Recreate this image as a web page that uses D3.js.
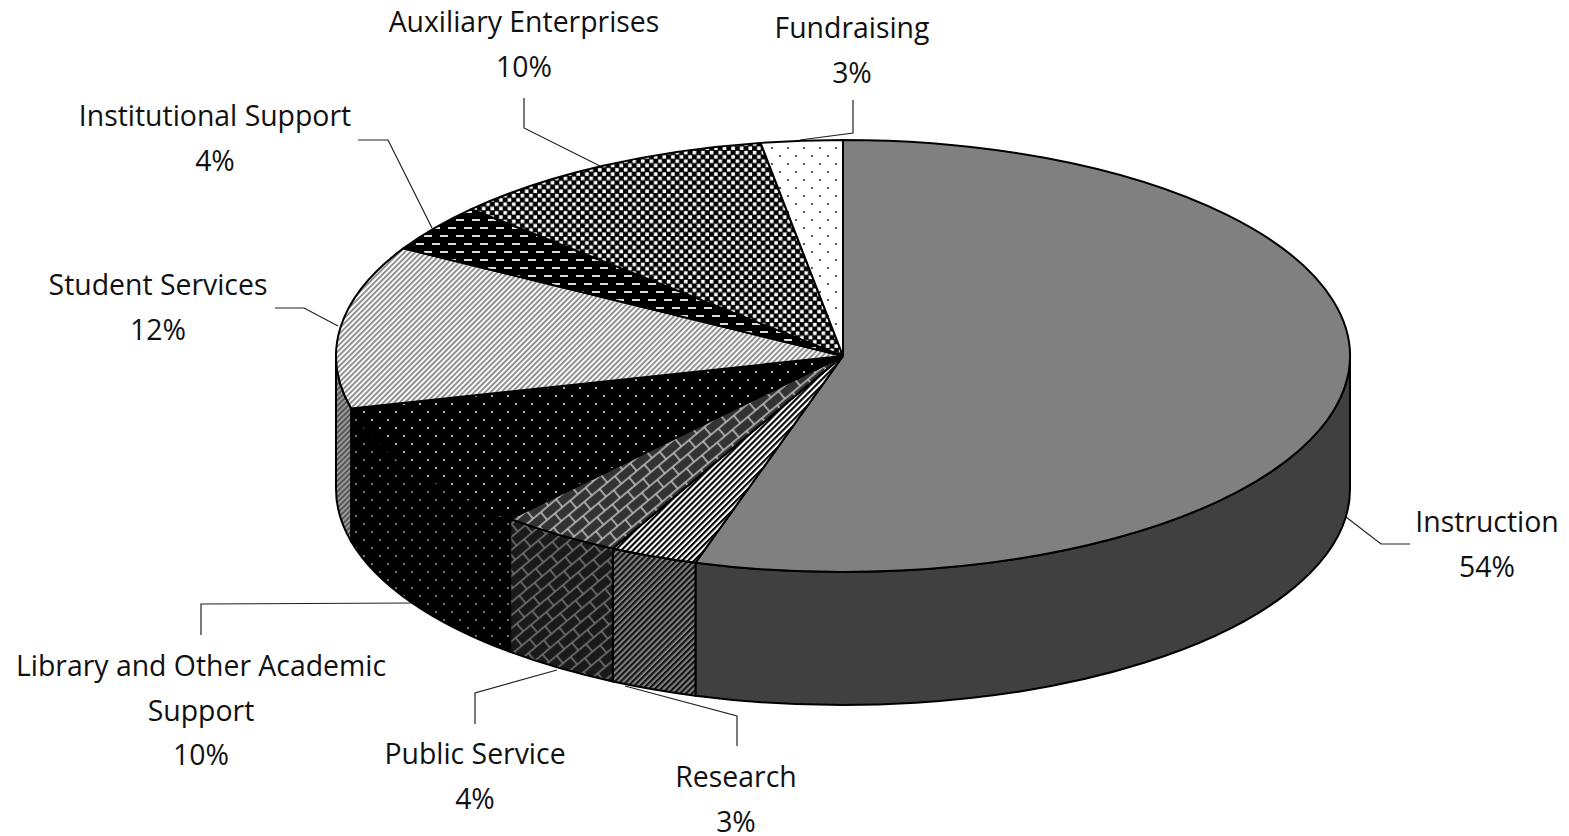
<!DOCTYPE html>
<html><head><meta charset="utf-8">
<style>html,body{margin:0;padding:0;background:#fff}svg{display:block}
text{font-family:"Open Sans",sans-serif;font-size:28.4px;fill:#111;text-anchor:middle}</style>
<script src="https://cdn.jsdelivr.net/npm/d3@7/dist/d3.min.js"></script>
</head><body><svg id="c" width="1569" height="836"></svg>
<script>
// Data (clockwise from 12 o'clock)
const categories = ["Instruction","Research","Public Service","Library and Other Academic Support","Student Services","Institutional Support","Auxiliary Enterprises","Fundraising"];
const shares = [54.7,2.8,3.9,9.7,12.2,3.6,10.5,2.6];
const shownLabels = ["54%","3%","4%","10%","12%","4%","10%","3%"];
const labelLines = [["Instruction"],["Research"],["Public Service"],["Library and Other Academic","Support"],["Student Services"],["Institutional Support"],["Auxiliary Enterprises"],["Fundraising"]];

// Layout
const cx=843, cy=356, rx=507, ry=216, depth=133, pitch=44.5;
const labelPos=[[1487,532],[736,787],[475,764],[201,676],[158,295],[215,126],[524,32],[852,38]];
const leaders=[
 [[1346,517],[1381,544],[1410,544]],
 [[625,686],[737,716],[737,746]],
 [[557,670],[475,693],[475,724]],
 [[413,603],[201,604],[201,635]],
 [[338,326],[304,308],[275,308]],
 [[432,228],[388,140],[358,140]],
 [[600,166],[524,128],[524,98]],
 [[800,140],[853,133],[853,100]]];

const svg=d3.select("#c"), defs=svg.append("defs");
function pat(id,w,h,bg,rot,draw){
  const p=defs.append("pattern").attr("id",id).attr("patternUnits","userSpaceOnUse").attr("width",w).attr("height",h);
  if(rot) p.attr("patternTransform",`rotate(${rot})`);
  p.append("rect").attr("width",w).attr("height",h).attr("fill",bg);
  draw(p);
}
const dots=(id,bg,fg,r)=>pat(id,16,16,bg,0,p=>{[[4,4],[12,12]].forEach(d=>p.append("circle").attr("cx",d[0]).attr("cy",d[1]).attr("r",r).attr("fill",fg));});
const stripes=(id,bg,fg,w,t)=>pat(id,w,w,bg,45,p=>p.append("rect").attr("width",t).attr("height",w).attr("fill",fg));
const bricks=(id,bg,fg,sw)=>pat(id,20,20,bg,-40,p=>{
  ["M0 0H20","M0 10H20","M5 0V10","M15 10V20","M0 20H20"].forEach(d=>p.append("path").attr("d",d).attr("stroke",fg).attr("stroke-width",sw).attr("fill","none"));
});
dots("pFund","#fff","#333",1.1);
dots("pLib","#000","#ddd",1.1);
dots("pLibW","#000","#999",1);
pat("pAux",8.6,8.6,"#000",0,p=>{[[0.3,0.3],[4.6,4.6]].forEach(d=>p.append("rect").attr("x",d[0]).attr("y",d[1]).attr("width",3.6).attr("height",3.6).attr("fill","#fff"));});
pat("pInst",16,16,"#000",0,p=>{[[0,3],[8,11]].forEach(d=>p.append("rect").attr("x",d[0]).attr("y",d[1]).attr("width",8).attr("height",2).attr("fill","#ddd"));});
stripes("pStu","#fff","#909090",3.8,2);
stripes("pStuW","#999","#555",3.8,1.9);
stripes("pRes","#fff","#000",4.2,2.1);
stripes("pResW","#808080","#111",4.2,2.1);
bricks("pPub","#333","#c4c4c4",1.5);
bricks("pPubW","#1a1a1a","#777",1.5);

const topFill=["#808080","url(#pRes)","url(#pPub)","url(#pLib)","url(#pStu)","url(#pInst)","url(#pAux)","url(#pFund)"];
const wallFill=["#404040","url(#pResW)","url(#pPubW)","url(#pLibW)","url(#pStuW)",null,null,null];

const arcs=d3.pie().sort(null).value(d=>d)(shares);
const pt=(a,dy=0)=>[cx+rx*Math.sin(a),cy-ry*Math.cos(a)+dy];
const strokeProps=s=>s.attr("stroke","#000").attr("stroke-width",2).attr("stroke-linejoin","round");

// Outer wall: only the front half of the rim (pi/2 to 3pi/2) faces the viewer
const wallG=svg.append("g");
arcs.forEach((d,i)=>{
  const a0=Math.max(d.startAngle,Math.PI/2), a1=Math.min(d.endAngle,3*Math.PI/2);
  if(a1<=a0||!wallFill[i]) return;
  const A=pt(a0), B=pt(a1), C=pt(a1,depth), E=pt(a0,depth);
  wallG.append("path")
    .attr("d",`M${A}A${rx},${ry} 0 0 1 ${B}L${C}A${rx},${ry} 0 0 0 ${E}Z`)
    .attr("fill",wallFill[i]).call(strokeProps);
});

// Top face
const faceG=svg.append("g");
arcs.forEach((d,i)=>{
  const A=pt(d.startAngle), B=pt(d.endAngle), large=d.endAngle-d.startAngle>Math.PI?1:0;
  faceG.append("path")
    .attr("d",`M${cx},${cy}L${A}A${rx},${ry} 0 ${large} 1 ${B}Z`)
    .attr("fill",topFill[i]).call(strokeProps);
});

// Leader lines
svg.append("g").selectAll("path").data(leaders).join("path")
  .attr("d",d3.line()).attr("fill","none").attr("stroke","#222").attr("stroke-width",1.2);

// Labels
const labelG=svg.append("g");
categories.forEach((c,i)=>{
  const lines=[...labelLines[i],shownLabels[i]];
  lines.forEach((t,j)=>labelG.append("text").attr("x",labelPos[i][0]).attr("y",labelPos[i][1]+j*pitch).text(t));
});
</script></body></html>
